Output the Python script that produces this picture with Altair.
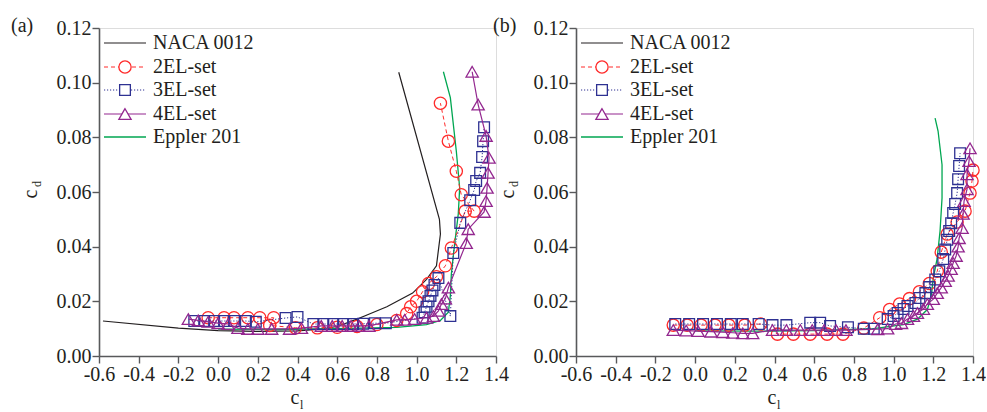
import altair as alt
import pandas as pd

FONT = "Liberation Serif"
TXT = "#231f20"
AXC = "#58595b"

# ---------------- panel (a) data ----------------
naca_a_cl = [-0.58, -0.2, 0.0, 0.2, 0.4, 0.5, 0.6, 0.7, 0.75, 0.85, 0.98, 1.05, 1.10, 1.12, 1.115, 0.91]
naca_a_cd = [0.0128, 0.0102, 0.0093, 0.0090, 0.0092, 0.0097, 0.0108, 0.0135, 0.0150, 0.0180, 0.0230, 0.0280, 0.0330, 0.0446, 0.0500, 0.1038]

epp_a_cl = [0.0, 0.3, 0.6, 0.9, 1.05, 1.12, 1.16, 1.17, 1.175, 1.19, 1.21, 1.217, 1.20, 1.17, 1.135]
epp_a_cd = [0.0098, 0.0097, 0.0100, 0.0105, 0.0115, 0.0130, 0.0160, 0.0220, 0.0300, 0.0400, 0.0520, 0.0615, 0.0750, 0.0945, 0.1040]

el2_a_cl = [-0.05, 0.03, 0.08, 0.15, 0.21, 0.28, 0.26, 0.39, 0.50, 0.60, 0.70, 0.80, 0.90, 0.95, 0.97, 1.00, 1.03, 1.06,
            1.10, 1.145, 1.175, 1.245, 1.29, 1.225, 1.20, 1.16, 1.12]
el2_a_cd = [0.0140, 0.0140, 0.0140, 0.0140, 0.0140, 0.0140, 0.0112, 0.0103, 0.0103, 0.0105, 0.0108, 0.0115, 0.0130, 0.0155,
            0.0180, 0.0200, 0.0235, 0.0265, 0.0290, 0.0330, 0.0395, 0.0530, 0.0530, 0.0590, 0.0676, 0.0786, 0.0925]

el3_a_cl = [-0.12, -0.07, -0.02, 0.03, 0.08, 0.14, 0.19, 0.34, 0.40, 0.48, 0.53, 0.58, 0.63, 0.68, 0.73, 0.79, 0.845,
            1.03, 1.04, 1.05, 1.06, 1.07, 1.08, 1.09, 1.11, 1.17, 1.185, 1.22, 1.27, 1.29, 1.30, 1.32, 1.33, 1.335, 1.34]
el3_a_cd = [0.0128, 0.0128, 0.0128, 0.0128, 0.0128, 0.0128, 0.0125, 0.0139, 0.0143, 0.0117, 0.0117, 0.0117, 0.0117,
            0.0117, 0.0118, 0.0120, 0.0120, 0.0140, 0.0160, 0.0180, 0.0200, 0.0220, 0.0240, 0.0260, 0.0285, 0.0146,
            0.0377, 0.0487, 0.0570, 0.0607, 0.0640, 0.0670, 0.0728, 0.0786, 0.0837]

el4_a_cl = [-0.15, -0.10, -0.05, 0.0, 0.05, 0.10, 0.15, 0.20, 0.27, 0.36, 0.42, 0.52, 0.575, 0.625, 0.67, 0.71, 0.76,
            0.90, 0.94, 0.99, 1.05, 1.085, 1.11, 1.125, 1.145, 1.16, 1.25, 1.26, 1.34, 1.35, 1.355, 1.36, 1.365, 1.35,
            1.31, 1.28]
el4_a_cd = [0.0135, 0.0130, 0.0125, 0.0120, 0.0117, 0.0102, 0.0099, 0.0099, 0.0099, 0.0099, 0.0102, 0.0110, 0.0110,
            0.0110, 0.0110, 0.0110, 0.0110, 0.0132, 0.0132, 0.0135, 0.0140, 0.0146, 0.0165, 0.0190, 0.0210, 0.0250,
            0.0413, 0.0464, 0.0527, 0.0567, 0.0615, 0.0670, 0.0725, 0.0805, 0.0920, 0.1040]

# ---------------- panel (b) data ----------------
epp_b_cl = [0.0, 0.3, 0.6, 0.9, 1.05, 1.12, 1.17, 1.19, 1.20, 1.219, 1.234, 1.244, 1.244, 1.224, 1.209]
epp_b_cd = [0.0092, 0.0091, 0.0093, 0.0100, 0.0115, 0.0135, 0.0170, 0.0220, 0.0285, 0.0355, 0.0457, 0.0578, 0.0700,
            0.0823, 0.0870]

el2_b_cl = [-0.11, -0.04, 0.03, 0.10, 0.17, 0.25, 0.33, 0.415, 0.495, 0.58, 0.665, 0.745, 0.85, 0.93, 0.98, 1.03, 1.08,
            1.13, 1.18, 1.22, 1.24, 1.27, 1.32, 1.36, 1.385, 1.395, 1.40]
el2_b_cd = [0.0113, 0.0113, 0.0113, 0.0113, 0.0113, 0.0113, 0.0117, 0.0080, 0.0080, 0.0080, 0.0080, 0.0080, 0.0102,
            0.0140, 0.0170, 0.0190, 0.0210, 0.0235, 0.0265, 0.0310, 0.0380, 0.0446, 0.0490, 0.0530, 0.0596, 0.0640,
            0.0680]

el3_b_cl = [-0.10, -0.03, 0.04, 0.11, 0.18, 0.24, 0.32, 0.39, 0.46, 0.58, 0.63, 0.68, 0.77, 0.85, 0.90, 0.97, 1.00, 1.02,
            1.05, 1.07, 1.11, 1.13, 1.16, 1.18, 1.21, 1.23, 1.25, 1.26, 1.27, 1.28, 1.29, 1.30, 1.31, 1.32, 1.325, 1.33,
            1.335]
el3_b_cd = [0.0117, 0.0117, 0.0117, 0.0117, 0.0117, 0.0117, 0.0117, 0.0113, 0.0113, 0.0122, 0.0122, 0.0110, 0.0105,
            0.0100, 0.0100, 0.0135, 0.0146, 0.0157, 0.0172, 0.0183, 0.0194, 0.0212, 0.0230, 0.0252, 0.0280, 0.0310,
            0.0355, 0.0390, 0.0425, 0.0457, 0.0486, 0.0523, 0.0556, 0.0596, 0.0647, 0.0695, 0.0742]

el4_b_cl = [-0.11, -0.045, 0.015, 0.08, 0.14, 0.19, 0.24, 0.29, 0.39, 0.46, 0.53, 0.59, 0.65, 0.71, 0.76, 0.92, 0.97,
            1.01, 1.04, 1.07, 1.10, 1.12, 1.15, 1.17, 1.20, 1.22, 1.24, 1.26, 1.275, 1.29, 1.30, 1.315, 1.325, 1.33,
            1.345, 1.35, 1.355, 1.37, 1.37, 1.38, 1.385]
el4_b_cd = [0.0095, 0.0093, 0.0091, 0.0089, 0.0087, 0.0085, 0.0083, 0.0083, 0.0095, 0.0095, 0.0095, 0.0095, 0.0095,
            0.0095, 0.0095, 0.0098, 0.0100, 0.0117, 0.0120, 0.0135, 0.0146, 0.0157, 0.0172, 0.0190, 0.0208, 0.0230,
            0.0250, 0.0274, 0.0293, 0.0318, 0.0340, 0.0366, 0.0400, 0.0431, 0.0468, 0.0520, 0.0567, 0.0610, 0.0665,
            0.0713, 0.0760]

legend_names = ["NACA 0012", "2EL-set", "3EL-set", "4EL-set", "Eppler 201"]
x_ticks = [-0.6, -0.4, -0.2, 0.0, 0.2, 0.4, 0.6, 0.8, 1.0, 1.2, 1.4]
y_ticks = [0.0, 0.02, 0.04, 0.06, 0.08, 0.10, 0.12]

# ---------------- styling ----------------
W, H = 397, 328
STYLE = {
    "NACA 0012": dict(color="#231f20", dash=None, shape=None, lw=1.2),
    "2EL-set": dict(color="#ff2a2a", dash=[4, 3], shape="circle", size=150, lw=1.0),
    "3EL-set": dict(color="#2e3192", dash=[1.2, 1.8], shape="square", size=115, lw=1.0),
    "4EL-set": dict(color="#93278f", dash=None, shape="triangle-up", size=150, lw=1.2),
    "Eppler 201": dict(color="#00a651", dash=None, shape=None, lw=1.3),
}

xscale = alt.Scale(domain=[-0.6, 1.4], nice=False, zero=False)
yscale = alt.Scale(domain=[0, 0.12], nice=False, zero=False)

common_axis = dict(title=None, grid=False, domainColor=AXC, domainWidth=1.6, tickColor=AXC, tickWidth=1.4,
                   tickSize=7, labelFont=FONT, labelFontSize=20, labelColor=TXT, labelPadding=1,
                   labelFlush=False, labelOverlap=False)
xaxis = alt.Axis(values=x_ticks, labelExpr="datum.value < -0.001 ? '-' + format(-datum.value, '.1f') : format(datum.value, '.1f')",
                 **common_axis)
yaxis = alt.Axis(values=y_ticks, format=".2f", **common_axis)

one = pd.DataFrame({"k": [0]})


def frame(cl, cd):
    return pd.DataFrame({"cl": cl, "cd": cd, "i": list(range(len(cl)))})


def enc(ch):
    return ch.encode(x=alt.X("cl:Q", scale=xscale, axis=xaxis),
                     y=alt.Y("cd:Q", scale=yscale, axis=yaxis),
                     order="i:Q")


def series_layers(name, cl, cd):
    st = STYLE[name]
    d = frame(cl, cd)
    kw = dict(color=st["color"], strokeWidth=st["lw"])
    if st["dash"]:
        kw["strokeDash"] = st["dash"]
    out = [enc(alt.Chart(d).mark_line(**kw))]
    if st["shape"]:
        out.append(enc(alt.Chart(d).mark_point(shape=st["shape"], size=st["size"], filled=False,
                                               color=st["color"], strokeWidth=1.3, opacity=1)))
    return out


def legend_layers():
    out = []
    ys = [15, 39, 62, 86, 109]
    for name, yy in zip(legend_names, ys):
        st = STYLE[name]
        kw = dict(color=st["color"], strokeWidth=st["lw"])
        if st["dash"]:
            kw["strokeDash"] = st["dash"]
        out.append(alt.Chart(one).mark_rule(**kw).encode(x=alt.value(5), x2=alt.value(47), y=alt.value(yy)))
        if st["shape"]:
            out.append(alt.Chart(one).mark_point(shape=st["shape"], size=st["size"], filled=True, fill="white",
                                                 stroke=st["color"], strokeWidth=1.3, opacity=1)
                       .encode(x=alt.value(26), y=alt.value(yy)))
        out.append(alt.Chart(one).mark_text(text=name, align="left", baseline="middle", font=FONT,
                                            fontSize=20, color=TXT)
                   .encode(x=alt.value(54), y=alt.value(yy)))
    return out


def text_layers(label, lab_x):
    t = []
    t.append(alt.Chart(one).mark_text(text=label, align="left", baseline="middle", font=FONT, fontSize=20, color=TXT)
             .encode(x=alt.value(lab_x), y=alt.value(-2)))
    # y title c_d
    t.append(alt.Chart(one).mark_text(text="c", angle=270, align="center", baseline="alphabetic", font=FONT,
                                      fontSize=20, color=TXT).encode(x=alt.value(-62), y=alt.value(166)))
    t.append(alt.Chart(one).mark_text(text="d", angle=270, align="center", baseline="alphabetic", font=FONT,
                                      fontSize=12, color=TXT).encode(x=alt.value(-58), y=alt.value(156)))
    # x title c_l
    t.append(alt.Chart(one).mark_text(text="c", align="center", baseline="alphabetic", font=FONT,
                                      fontSize=20, color=TXT).encode(x=alt.value(196), y=alt.value(376)))
    t.append(alt.Chart(one).mark_text(text="l", align="left", baseline="alphabetic", font=FONT,
                                      fontSize=12, color=TXT).encode(x=alt.value(201), y=alt.value(381)))
    return t


layers_a = []
layers_a += series_layers("NACA 0012", naca_a_cl, naca_a_cd)
layers_a += series_layers("Eppler 201", epp_a_cl, epp_a_cd)
layers_a += series_layers("2EL-set", el2_a_cl, el2_a_cd)
layers_a += series_layers("3EL-set", el3_a_cl, el3_a_cd)
layers_a += series_layers("4EL-set", el4_a_cl, el4_a_cd)
layers_a += legend_layers()
layers_a += text_layers("(a)", -88)
panel_a = alt.layer(*layers_a).properties(width=W, height=H)

layers_b = []
layers_b += series_layers("Eppler 201", epp_b_cl, epp_b_cd)
layers_b += series_layers("2EL-set", el2_b_cl, el2_b_cd)
layers_b += series_layers("3EL-set", el3_b_cl, el3_b_cd)
layers_b += series_layers("4EL-set", el4_b_cl, el4_b_cd)
layers_b += legend_layers()
layers_b += text_layers("(b)", -83)
panel_b = alt.layer(*layers_b).properties(width=W, height=H)

chart = (alt.hconcat(panel_a, panel_b, spacing=80, bounds="flush")
         .properties(padding={"left": 10, "top": 15, "right": 0, "bottom": 0})
         .configure_view(stroke=None)
         .configure(background="white"))

chart.save("out.html", embed_options={"renderer": "svg", "actions": False})
